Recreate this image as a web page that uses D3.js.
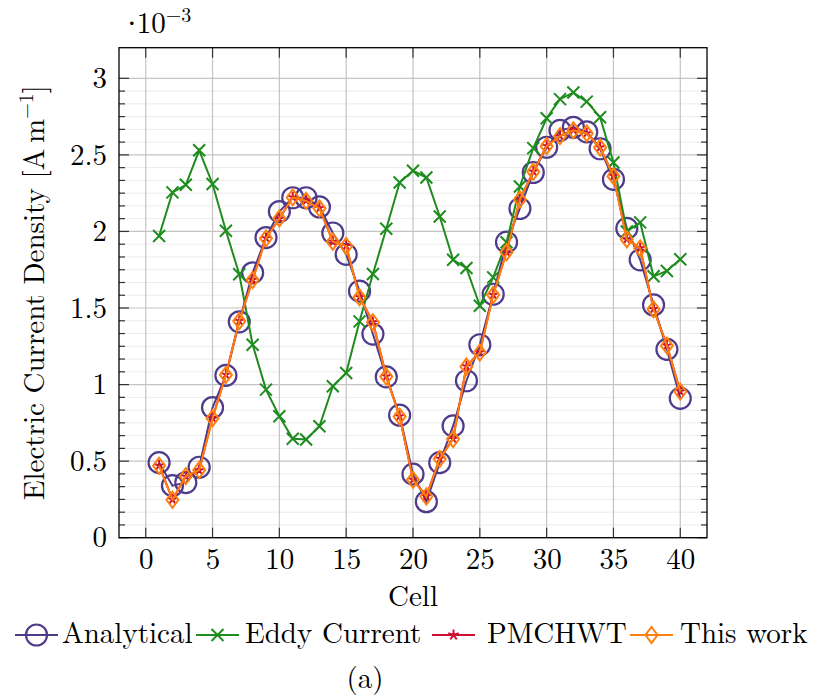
<!DOCTYPE html>
<html><head><meta charset="utf-8">
<script src="https://cdn.jsdelivr.net/npm/d3@7/dist/d3.min.js"></script>
<style>body{margin:0;background:#fff}</style>
</head><body>
<svg id="c" width="818" height="699"></svg>
<script>
// values in units of 1e-3 A/m
const cells = d3.range(1, 41);
const analytical = [0.49,0.34,0.36,0.46,0.85,1.06,1.41,1.73,1.96,2.13,2.22,2.22,2.16,1.99,1.85,1.61,1.33,1.05,0.80,0.415,
                    0.235,0.49,0.73,1.025,1.26,1.59,1.93,2.15,2.385,2.55,2.66,2.68,2.65,2.54,2.34,2.02,1.815,1.52,1.23,0.91];
const eddy = [1.97,2.255,2.305,2.53,2.31,2.005,1.72,1.26,0.967,0.793,0.646,0.641,0.728,0.989,1.076,1.413,1.722,2.018,2.32,2.396,
              2.352,2.098,1.815,1.761,1.515,1.70,1.929,2.294,2.544,2.739,2.864,2.907,2.848,2.746,2.45,2.0,2.059,1.707,1.742,1.818];
const pmchwt = [0.472,0.25,0.40,0.44,0.783,1.065,1.417,1.685,1.957,2.083,2.224,2.202,2.153,1.935,1.907,1.572,1.409,1.054,0.793,0.38,
                0.271,0.517,0.646,1.12,1.211,1.587,1.866,2.211,2.392,2.559,2.624,2.663,2.642,2.55,2.363,1.95,1.892,1.494,1.256,0.956];
const thisWork = [0.470,0.248,0.402,0.442,0.780,1.063,1.415,1.683,1.955,2.085,2.222,2.200,2.151,1.933,1.905,1.570,1.407,1.052,0.791,0.378,
                  0.269,0.515,0.644,1.118,1.209,1.585,1.864,2.209,2.390,2.557,2.622,2.661,2.640,2.548,2.361,1.948,1.890,1.492,1.254,0.954];
const xTicks = [0,5,10,15,20,25,30,35,40];
const yTicks = [0,0.5,1,1.5,2,2.5,3];
const yTickLabels = ["0","0.5","1","1.5","2","2.5","3"];
const seriesNames = ["Analytical","Eddy Current","PMCHWT","This work"];
const colors = ["#4f3a8c","#1e8c1e","#cc1034","#ff7f0e"];

const FONT = '"Latin Modern Roman","CMU Serif","Liberation Serif",serif';
const svg = d3.select("#c");
const L=119, R=707, T=47.7, B=537.7;
const x = d3.scaleLinear().domain([-2,42]).range([L,R]);
const y = d3.scaleLinear().domain([0,3.2]).range([B,T]);
const FS = 29, SFS = 20;

// minor horizontal grid
const minor = [];
for (let i=0;i<yTicks.length-1;i++) for (let k=1;k<6;k++) minor.push(yTicks[i]+k*(yTicks[i+1]-yTicks[i])/6);
const g = svg.append("g");
g.selectAll(".mg").data(minor).join("line")
  .attr("x1",L).attr("x2",R).attr("y1",d=>y(d)).attr("y2",d=>y(d))
  .attr("stroke","#ebebeb").attr("stroke-width",1);
g.selectAll(".gy").data(yTicks).join("line")
  .attr("x1",L).attr("x2",R).attr("y1",d=>y(d)).attr("y2",d=>y(d))
  .attr("stroke","#c4c4c4").attr("stroke-width",1.2);
g.selectAll(".gx").data(xTicks).join("line")
  .attr("y1",T).attr("y2",B).attr("x1",d=>x(d)).attr("x2",d=>x(d))
  .attr("stroke","#c4c4c4").attr("stroke-width",1.2);

// ticks (inward)
const tk = svg.append("g").attr("stroke","#333").attr("stroke-width",1.2);
xTicks.forEach(v=>{
  tk.append("line").attr("x1",x(v)).attr("x2",x(v)).attr("y1",B).attr("y2",B-10);
  tk.append("line").attr("x1",x(v)).attr("x2",x(v)).attr("y1",T).attr("y2",T+10);
});
yTicks.forEach(v=>{
  tk.append("line").attr("x1",L).attr("x2",L+10).attr("y1",y(v)).attr("y2",y(v));
  tk.append("line").attr("x1",R).attr("x2",R-10).attr("y1",y(v)).attr("y2",y(v));
});
minor.forEach(v=>{
  tk.append("line").attr("x1",L).attr("x2",L+6).attr("y1",y(v)).attr("y2",y(v));
  tk.append("line").attr("x1",R).attr("x2",R-6).attr("y1",y(v)).attr("y2",y(v));
});

// axes labels via d3 axes
const xa = svg.append("g").attr("transform",`translate(0,${B})`)
  .call(d3.axisBottom(x).tickValues(xTicks).tickFormat(d3.format("d")).tickSize(0).tickPadding(11));
xa.select(".domain").remove();
xa.selectAll("text").attr("font-size",FS).style("font-family",FONT).attr("fill","#000");
const ya = svg.append("g").attr("transform",`translate(${L},0)`)
  .call(d3.axisLeft(y).tickValues(yTicks).tickFormat((d,i)=>yTickLabels[i]).tickSize(0).tickPadding(12));
ya.select(".domain").remove();
ya.selectAll("text").attr("font-size",FS).style("font-family",FONT).attr("fill","#000");

// frame
svg.append("rect").attr("x",L).attr("y",T).attr("width",R-L).attr("height",B-T)
  .attr("fill","none").attr("stroke","#000").attr("stroke-width",1.3);

// series
const line = d3.line().x((d,i)=>x(cells[i])).y(d=>y(d));
const allSeries = [analytical, eddy, pmchwt, thisWork];

function marker(sel, type, color){
  if (type===0){
    sel.append("circle").attr("r",10.5).attr("fill","none").attr("stroke",color).attr("stroke-width",2.2);
  } else if (type===1){
    const s=6;
    sel.append("path").attr("d",`M${-s},${-s}L${s},${s}M${-s},${s}L${s},${-s}`)
      .attr("stroke",color).attr("stroke-width",2).attr("fill","none");
  } else if (type===2){
    const r=5.5; let p="";
    for (let k=0;k<5;k++){ const a=-Math.PI/2+k*2*Math.PI/5; p+=`M0,0L${r*Math.cos(a)},${r*Math.sin(a)}`; }
    sel.append("path").attr("d",p).attr("stroke",color).attr("stroke-width",2).attr("fill","none");
  } else {
    sel.append("path").attr("d","M0,-8L6,0L0,8L-6,0Z").attr("fill","none")
      .attr("stroke",color).attr("stroke-width",2);
  }
}

allSeries.forEach((data,si)=>{
  const gs = svg.append("g");
  gs.append("path").datum(data).attr("d",line).attr("fill","none")
    .attr("stroke",colors[si]).attr("stroke-width",2);
  data.forEach((v,i)=>{
    const m = gs.append("g").attr("transform",`translate(${x(cells[i])},${y(v)})`);
    marker(m, si, colors[si]);
  });
});

function txt(){ return svg.append("text").style("font-family",FONT).attr("font-size",FS).attr("fill","#000"); }

// y label
txt().attr("transform",`translate(44,${(T+B)/2}) rotate(-90)`)
  .attr("text-anchor","middle")
  .html(`Electric Current Density [A\u2009m<tspan dy="-11" font-size="${SFS}">−1</tspan><tspan dy="11">]</tspan>`);

// exponent
txt().attr("x",127).attr("y",33)
  .html(`<tspan style="font-family:'Liberation Serif'">·</tspan><tspan>10</tspan><tspan dy="-11" font-size="${SFS}">−3</tspan>`);

// x label
txt().attr("x",(L+R)/2).attr("y",606).attr("text-anchor","middle").text("Cell");

// legend
const lineX = [15,196,432,630];
const textX = [62,245,487,680];
const ly = 635;
seriesNames.forEach((n,si)=>{
  svg.append("line").attr("x1",lineX[si]).attr("x2",lineX[si]+43).attr("y1",ly).attr("y2",ly)
    .attr("stroke",colors[si]).attr("stroke-width",2);
  const m = svg.append("g").attr("transform",`translate(${lineX[si]+21.5},${ly})`);
  marker(m, si, colors[si]);
  txt().attr("x",textX[si]).attr("y",ly+8).text(n);
});

txt().attr("x",365).attr("y",688).attr("text-anchor","middle").text("(a)");
</script>
</body></html>
